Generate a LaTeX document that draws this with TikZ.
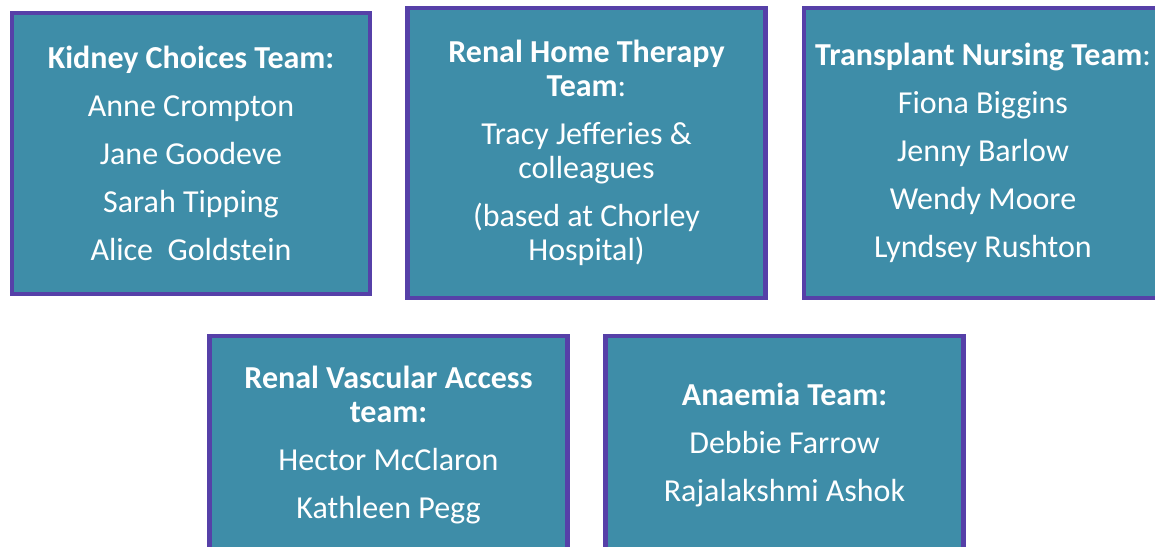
\documentclass[tikz,border=0pt]{standalone}
\usepackage{fontspec}
\setmainfont{Carlito}
\usepackage{tikz}
\usetikzlibrary{positioning}

\definecolor{teamfill}{RGB}{62,141,168}
\definecolor{teamline}{RGB}{86,64,168}

\begin{document}
\begin{tikzpicture}[x=1pt,y=-1pt,
    team/.style={draw=teamline, line width=4.5pt, fill=teamfill, text=white,
      align=center, minimum width=358pt, inner sep=0pt,
      font=\fontsize{32}{34}\selectfont}]
  \useasboundingbox (0,0) rectangle (1155,546);
  \clip (0,0) rectangle (1155,546);
  \node[team, minimum height=281pt] (kidney) at (191,153.5)
    {\textbf{Kidney Choices Team:}\\[14pt] Anne Crompton\\[14pt] Jane Goodeve\\[14pt]
     Sarah Tipping\\[14pt] Alice\ \ Goldstein};
  \node[team, minimum height=290pt] (home) at (586.5,153)
    {\textbf{Renal Home Therapy}\\ \textbf{Team}:\\[14pt] Tracy Jefferies \&\\ colleagues\\[14pt]
     (based at Chorley\\ Hospital)};
  \node[team, minimum height=290pt] (transplant) at (983,153)
    {\textbf{Transplant Nursing Team}:\\[14pt] Fiona Biggins\\[14pt] Jenny Barlow\\[14pt]
     Wendy Moore\\[14pt] Lyndsey Rushton};
  \node[team, minimum height=218pt] (access) at (388.5,445)
    {\textbf{Renal Vascular Access}\\ \textbf{team:}\\[14pt] Hector McClaron\\[14pt] Kathleen Pegg};
  \node[team, minimum height=218pt] (anaemia) at (784.5,445)
    {\textbf{Anaemia Team:}\\[14pt] Debbie Farrow\\[14pt] Rajalakshmi Ashok};
\end{tikzpicture}
\end{document}
